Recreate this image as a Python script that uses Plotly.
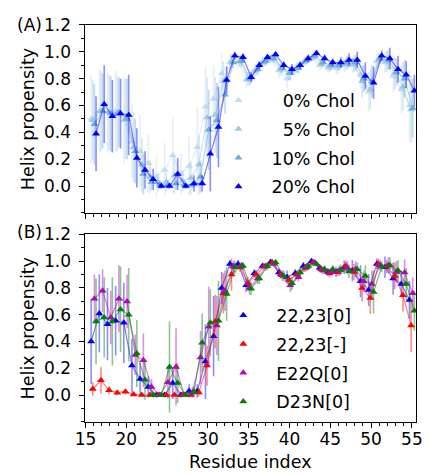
import plotly.graph_objects as go

# Residue numbering shared by both panels
residues = list(range(16, 56))

# Panel A: helix propensity vs. cholesterol content
chol_labels = ["\u20070% Chol", "\u20075% Chol", "10% Chol", "20% Chol"]
chol0 = [0.50, 0.56, 0.55, 0.56, 0.49, 0.33, 0.26, 0.17, 0.07, 0.12,
         0.23, 0.09, 0.15, 0.29, 0.59, 0.65, 0.84, 0.92, 0.92, 0.79,
         0.86, 0.93, 0.94, 0.86, 0.80, 0.86, 0.92, 0.95, 0.90, 0.88,
         0.88, 0.90, 0.90, 0.83, 0.70, 0.93, 0.92, 0.82, 0.72, 0.60]
chol5 = [0.49, 0.56, 0.55, 0.54, 0.50, 0.29, 0.16, 0.07, 0.03, 0.03,
         0.08, 0.04, 0.06, 0.16, 0.51, 0.53, 0.78, 0.93, 0.93, 0.80,
         0.86, 0.92, 0.95, 0.87, 0.84, 0.88, 0.93, 0.96, 0.91, 0.89,
         0.89, 0.91, 0.91, 0.78, 0.72, 0.94, 0.93, 0.84, 0.74, 0.57]
chol10 = [0.46, 0.56, 0.54, 0.55, 0.50, 0.26, 0.09, 0.03, 0.01, 0.01,
          0.02, 0.01, 0.01, 0.07, 0.42, 0.49, 0.68, 0.92, 0.93, 0.80,
          0.87, 0.93, 0.95, 0.88, 0.84, 0.88, 0.94, 0.97, 0.92, 0.90,
          0.90, 0.92, 0.92, 0.80, 0.78, 0.95, 0.94, 0.85, 0.80, 0.58]
chol20 = [0.39, 0.61, 0.52, 0.54, 0.53, 0.21, 0.12, 0.05, 0.00, 0.00,
          0.09, 0.00, 0.02, 0.02, 0.24, 0.44, 0.79, 0.97, 0.96, 0.81,
          0.90, 0.96, 0.98, 0.90, 0.87, 0.90, 0.95, 0.99, 0.95, 0.92,
          0.92, 0.94, 0.94, 0.82, 0.77, 0.97, 0.95, 0.87, 0.83, 0.71]
chol0_err = [0.33, 0.30, 0.30, 0.30, 0.32, 0.28, 0.27, 0.22, 0.15, 0.20,
             0.28, 0.15, 0.22, 0.30, 0.30, 0.25, 0.15, 0.06, 0.05, 0.06,
             0.05, 0.04, 0.04, 0.06, 0.07, 0.05, 0.04, 0.03, 0.04, 0.04,
             0.05, 0.05, 0.06, 0.10, 0.15, 0.05, 0.08, 0.12, 0.18, 0.26]
chol5_err = [0.30, 0.30, 0.28, 0.28, 0.30, 0.26, 0.20, 0.12, 0.07, 0.07,
             0.14, 0.08, 0.12, 0.22, 0.30, 0.28, 0.15, 0.05, 0.04, 0.05,
             0.04, 0.03, 0.03, 0.05, 0.05, 0.04, 0.03, 0.03, 0.04, 0.04,
             0.05, 0.05, 0.06, 0.12, 0.15, 0.05, 0.08, 0.12, 0.18, 0.25]
chol10_err = [0.30, 0.28, 0.28, 0.26, 0.30, 0.24, 0.15, 0.06, 0.03, 0.03,
              0.05, 0.03, 0.03, 0.12, 0.30, 0.28, 0.14, 0.04, 0.04, 0.05,
              0.04, 0.03, 0.03, 0.04, 0.05, 0.04, 0.03, 0.02, 0.03, 0.04,
              0.04, 0.05, 0.06, 0.10, 0.12, 0.04, 0.07, 0.10, 0.14, 0.22]
chol20_err = [0.28, 0.29, 0.27, 0.26, 0.30, 0.22, 0.14, 0.08, 0.02, 0.02,
              0.12, 0.02, 0.06, 0.06, 0.28, 0.30, 0.10, 0.03, 0.03, 0.04,
              0.03, 0.02, 0.02, 0.03, 0.04, 0.03, 0.03, 0.02, 0.03, 0.03,
              0.04, 0.05, 0.06, 0.10, 0.12, 0.04, 0.08, 0.10, 0.10, 0.12]

# Panel B: helix propensity for charge states and mutants
mut_labels = ["22,23[0]", "22,23[-]", "E22Q[0]", "D23N[0]"]
wt_neutral = [0.40, 0.61, 0.53, 0.555, 0.54, 0.22, 0.12, 0.06, 0.00, 0.00,
              0.09, 0.00, 0.03, 0.03, 0.25, 0.44, 0.80, 0.98, 0.98, 0.82,
              0.91, 0.965, 0.995, 0.915, 0.88, 0.91, 0.965, 1.00, 0.95, 0.92,
              0.92, 0.955, 0.93, 0.85, 0.785, 0.98, 0.955, 0.87, 0.83, 0.71]
wt_charged = [0.045, 0.11, 0.035, 0.018, 0.025, 0.005, 0.00, 0.00, 0.00, 0.00,
              0.00, 0.00, 0.00, 0.02, 0.22, 0.55, 0.76, 0.90, 0.955, 0.835,
              0.90, 0.96, 0.99, 0.90, 0.86, 0.90, 0.95, 0.99, 0.94, 0.91,
              0.92, 0.965, 0.92, 0.80, 0.725, 0.98, 0.96, 0.89, 0.745, 0.52]
e22q = [0.72, 0.78, 0.58, 0.72, 0.70, 0.30, 0.26, 0.06, 0.00, 0.095,
        0.21, 0.00, 0.02, 0.28, 0.51, 0.52, 0.78, 0.96, 0.965, 0.80,
        0.87, 0.96, 0.98, 0.895, 0.82, 0.88, 0.955, 0.99, 0.93, 0.92,
        0.93, 0.95, 0.94, 0.85, 0.83, 0.97, 0.97, 0.92, 0.915, 0.76]
d23n = [0.55, 0.58, 0.55, 0.64, 0.60, 0.31, 0.115, 0.00, 0.00, 0.21,
        0.09, 0.00, 0.025, 0.39, 0.54, 0.555, 0.755, 0.955, 0.965, 0.795,
        0.87, 0.965, 0.99, 0.89, 0.835, 0.915, 0.965, 0.98, 0.94, 0.94,
        0.935, 0.925, 0.94, 0.89, 0.77, 0.96, 0.97, 0.93, 0.83, 0.63]
wt_neutral_err = [0.32, 0.29, 0.27, 0.26, 0.30, 0.20, 0.12, 0.08, 0.02, 0.02,
                  0.12, 0.02, 0.05, 0.05, 0.28, 0.30, 0.12, 0.03, 0.03, 0.05,
                  0.03, 0.02, 0.02, 0.03, 0.05, 0.03, 0.03, 0.02, 0.03, 0.03,
                  0.04, 0.05, 0.08, 0.12, 0.12, 0.04, 0.08, 0.12, 0.10, 0.14]
wt_charged_err = [0.05, 0.10, 0.03, 0.02, 0.02, 0.01, 0.00, 0.00, 0.00, 0.00,
                  0.00, 0.00, 0.00, 0.03, 0.15, 0.20, 0.15, 0.12, 0.03, 0.05,
                  0.03, 0.02, 0.02, 0.03, 0.04, 0.03, 0.03, 0.02, 0.03, 0.03,
                  0.03, 0.04, 0.06, 0.10, 0.12, 0.04, 0.05, 0.10, 0.12, 0.20]
e22q_err = [0.18, 0.16, 0.20, 0.25, 0.20, 0.15, 0.20, 0.06, 0.01, 0.12,
            0.29, 0.01, 0.04, 0.20, 0.30, 0.22, 0.15, 0.04, 0.03, 0.05,
            0.04, 0.03, 0.02, 0.04, 0.05, 0.03, 0.03, 0.02, 0.03, 0.03,
            0.04, 0.05, 0.06, 0.08, 0.10, 0.04, 0.06, 0.08, 0.10, 0.12]
d23n_err = [0.32, 0.30, 0.33, 0.32, 0.35, 0.25, 0.15, 0.02, 0.01, 0.34,
            0.15, 0.01, 0.04, 0.22, 0.25, 0.30, 0.20, 0.05, 0.03, 0.05,
            0.04, 0.03, 0.02, 0.04, 0.05, 0.03, 0.03, 0.02, 0.03, 0.03,
            0.04, 0.05, 0.05, 0.08, 0.16, 0.04, 0.06, 0.08, 0.12, 0.15]

# Horizontal stagger so the four series sit side by side at each residue
offsets = [-0.3, -0.1, 0.1, 0.3]

panel_a = [
    (chol_labels[0], chol0, chol0_err, (198, 219, 239)),
    (chol_labels[1], chol5, chol5_err, (158, 202, 225)),
    (chol_labels[2], chol10, chol10_err, (107, 174, 214)),
    (chol_labels[3], chol20, chol20_err, (0, 0, 255)),
]
panel_b = [
    (mut_labels[0], wt_neutral, wt_neutral_err, (0, 0, 255)),
    (mut_labels[1], wt_charged, wt_charged_err, (255, 0, 0)),
    (mut_labels[2], e22q, e22q_err, (191, 0, 191)),
    (mut_labels[3], d23n, d23n_err, (0, 128, 0)),
]

FONT = "DejaVu Sans"
W, H = 430, 474

fig = go.Figure()


def rgba(c, a):
    return f"rgba({c[0]},{c[1]},{c[2]},{a})"


def add_panel(series, xaxis, yaxis, legend):
    for (label, vals, errs, col), dx in zip(series, offsets):
        xs = [r + dx for r in residues]
        fig.add_trace(go.Scatter(
            x=xs, y=vals, mode="lines+markers",
            line=dict(color=rgba(col, 0.5), width=1.2),
            marker=dict(symbol="triangle-up", size=7, color=rgba(col, 1),
                        line=dict(width=0)),
            error_y=dict(type="data", array=errs, visible=True,
                         color=rgba(col, 0.45), thickness=1.6, width=0),
            xaxis=xaxis, yaxis=yaxis, showlegend=False, hoverinfo="skip",
        ))
        # marker-only entry for the legend
        fig.add_trace(go.Scatter(
            x=[None], y=[None], mode="markers", name=label,
            marker=dict(symbol="triangle-up", size=7, color=rgba(col, 1),
                        line=dict(width=0)),
            xaxis=xaxis, yaxis=yaxis, legend=legend, legendgroup=label,
            showlegend=True,
        ))


add_panel(panel_a, "x", "y", "legend")
add_panel(panel_b, "x2", "y2", "legend2")

x_dom = [77.7 / W, 422.7 / W]
ya_dom = [(H - 207.3) / H, (H - 15.3) / H]
yb_dom = [(H - 420.7) / H, (H - 229.3) / H]

axis_common = dict(
    showline=True, linecolor="black", linewidth=1, mirror=True,
    ticks="outside", ticklen=5, tickwidth=1, tickcolor="black",
    showgrid=False, zeroline=False,
    tickfont=dict(family=FONT, size=17, color="black"),
)
x_common = dict(axis_common, range=[15, 55.5], tickvals=[15, 20, 25, 30, 35, 40, 45, 50, 55],
                minor=dict(dtick=1, tick0=15, ticks="outside", ticklen=3,
                           tickcolor="black", tickwidth=1, showgrid=False),
                domain=x_dom, ticklabelstandoff=-3)
y_common = dict(axis_common, range=[-0.2, 1.2],
                tickvals=[0.0, 0.2, 0.4, 0.6, 0.8, 1.0, 1.2], tickformat=".1f",
                minor=dict(dtick=0.1, tick0=0, ticks="outside", ticklen=3,
                           tickcolor="black", tickwidth=1, showgrid=False),
                ticklabelstandoff=5)

legend_common = dict(
    bgcolor="rgba(0,0,0,0)", borderwidth=0, xanchor="left", yanchor="top",
    font=dict(family=FONT, size=17.5, color="black"), itemwidth=56,
    tracegroupgap=3, traceorder="grouped",
)

fig.update_layout(
    width=W, height=H, margin=dict(l=0, r=0, t=0, b=0),
    paper_bgcolor="white", plot_bgcolor="white",
    font=dict(family=FONT, size=17.5, color="black"),
    xaxis=dict(x_common, anchor="y", showticklabels=False),
    yaxis=dict(y_common, domain=ya_dom, anchor="x"),
    xaxis2=dict(x_common, anchor="y2", matches="x"),
    yaxis2=dict(y_common, domain=yb_dom, anchor="x2"),
    legend=dict(legend_common, x=203 / W, y=1 - 74 / H),
    legend2=dict(legend_common, x=208 / W, y=1 - 293.5 / H),
    annotations=[
        dict(text="Helix propensity", x=18 / W, y=1 - 111.3 / H, xref="paper", yref="paper",
             textangle=-90, showarrow=False, xanchor="center", yanchor="middle",
             font=dict(family=FONT, size=17.5)),
        dict(text="Helix propensity", x=18 / W, y=1 - 325 / H, xref="paper", yref="paper",
             textangle=-90, showarrow=False, xanchor="center", yanchor="middle",
             font=dict(family=FONT, size=17.5)),
        dict(text="Residue index", x=250 / W, y=0, xref="paper", yref="paper",
             showarrow=False, xanchor="center", yanchor="bottom",
             font=dict(family=FONT, size=17.5)),
        dict(text="(A)", x=19 / W, y=1 - 15 / H, xref="paper", yref="paper",
             showarrow=False, xanchor="center", yanchor="middle",
             font=dict(family=FONT, size=17)),
        dict(text="(B)", x=19 / W, y=1 - 227 / H, xref="paper", yref="paper",
             showarrow=False, xanchor="center", yanchor="middle",
             font=dict(family=FONT, size=17)),
    ],
)

fig.write_html("out.html")
